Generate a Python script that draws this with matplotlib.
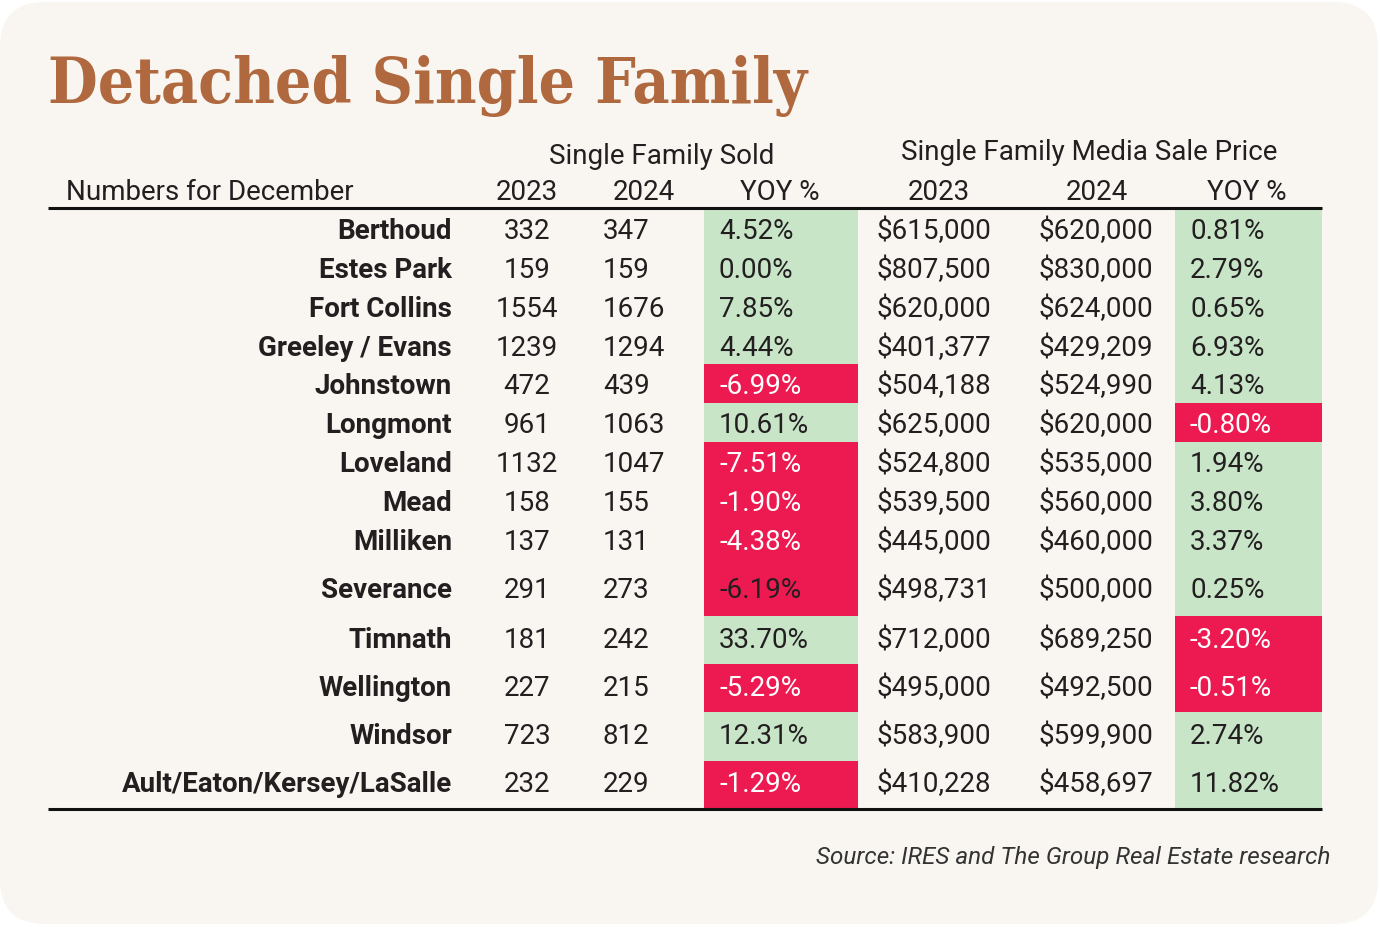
import matplotlib.pyplot as plt
from matplotlib.patches import FancyBboxPatch, Rectangle
from matplotlib import font_manager

towns = ["Berthoud", "Estes Park", "Fort Collins", "Greeley / Evans", "Johnstown",
         "Longmont", "Loveland", "Mead", "Milliken", "Severance", "Timnath",
         "Wellington", "Windsor", "Ault/Eaton/Kersey/LaSalle"]
sold_2023 = [332, 159, 1554, 1239, 472, 961, 1132, 158, 137, 291, 181, 227, 723, 232]
sold_2024 = [347, 159, 1676, 1294, 439, 1063, 1047, 155, 131, 273, 242, 215, 812, 229]
sold_yoy = [4.52, 0.00, 7.85, 4.44, -6.99, 10.61, -7.51, -1.90, -4.38, -6.19,
            33.70, -5.29, 12.31, -1.29]
price_2023 = [615000, 807500, 620000, 401377, 504188, 625000, 524800, 539500,
              445000, 498731, 712000, 495000, 583900, 410228]
price_2024 = [620000, 830000, 624000, 429209, 524990, 620000, 535000, 560000,
              460000, 500000, 689250, 492500, 599900, 458697]
price_yoy = [0.81, 2.79, 0.65, 6.93, 4.13, -0.80, 1.94, 3.80, 3.37, 0.25,
             -3.20, -0.51, 2.74, 11.82]
dark_on_red = ["Severance"]  # this one keeps dark text in the source

# layout (pixels)
row_edges = [210, 248.75, 287.5, 326.25, 365, 404, 443, 482, 521, 560,
             617, 665, 713, 762, 809]

names = {f.name for f in font_manager.fontManager.ttflist}
cond = "Liberation Sans Narrow" if "Liberation Sans Narrow" in names else "Roboto"

bg = "#f9f6f1"
ink = "#231f20"
green = "#c8e5c8"
red = "#ec1a50"

fig = plt.figure(figsize=(13.8, 9.28), dpi=100)
fig.patch.set_facecolor("white")
ax = fig.add_axes([0, 0, 1, 1])
ax.set_xlim(0, 1380)
ax.set_ylim(928, 0)
ax.axis("off")

ax.add_patch(FancyBboxPatch((0, 3), 1378, 922, boxstyle="round,pad=0,rounding_size=45",
                            fc=bg, ec="none"))

ax.text(48, 103, "Detached Single Family", family="DejaVu Serif", weight="bold",
        fontstretch="condensed", fontsize=46, color="#b0683e", va="baseline", ha="left")

fs = 20
ax.text(662, 164, "Single Family Sold", family=cond, fontsize=fs, color=ink, ha="center", va="baseline")
ax.text(1089, 160, "Single Family Media Sale Price", family=cond, fontsize=fs, color=ink, ha="center", va="baseline")
ax.text(66, 200, "Numbers for December", family=cond, fontsize=fs, color=ink, ha="left", va="baseline")
for x, s in [(527, "2023"), (644, "2024"), (780, "YOY %"), (939, "2023"), (1097, "2024"), (1247, "YOY %")]:
    ax.text(x, 200, s, family=cond, fontsize=fs, color=ink, ha="center", va="baseline")

for i, town in enumerate(towns):
    top, bot = row_edges[i], row_edges[i + 1]
    yb = (top + bot) / 2 + 10
    if bot - top > 45 and bot - top < 50:
        yb -= 3
    c1 = red if sold_yoy[i] < 0 else green
    c2 = red if price_yoy[i] < 0 else green
    ax.add_patch(Rectangle((704, top), 154, bot - top, fc=c1, ec="none"))
    ax.add_patch(Rectangle((1175, top), 147, bot - top, fc=c2, ec="none"))
    t1 = "white" if sold_yoy[i] < 0 and town not in dark_on_red else ink
    t2 = "white" if price_yoy[i] < 0 else ink
    ax.text(452, yb, town, family=cond, weight="bold", fontsize=fs, color=ink, ha="right", va="baseline")
    ax.text(527, yb, str(sold_2023[i]), family=cond, fontsize=fs, color=ink, ha="center", va="baseline")
    ax.text(603, yb, str(sold_2024[i]), family=cond, fontsize=fs, color=ink, ha="left", va="baseline")
    ax.text(719, yb, f"{sold_yoy[i]:.2f}%", family=cond, fontsize=fs, color=t1, ha="left", va="baseline")
    ax.text(876, yb, f"${price_2023[i]:,}", family=cond, fontsize=fs, color=ink, ha="left", va="baseline")
    ax.text(1039, yb, f"${price_2024[i]:,}", family=cond, fontsize=fs, color=ink, ha="left", va="baseline")
    ax.text(1190, yb, f"{price_yoy[i]:.2f}%", family=cond, fontsize=fs, color=t2, ha="left", va="baseline")

ax.plot([48, 1322], [208.5, 208.5], color="#111", lw=2.2, solid_capstyle="butt")
ax.plot([48, 1322], [809.5, 809.5], color="#111", lw=2.2, solid_capstyle="butt")

ax.text(1330, 864, "Source: IRES and The Group Real Estate research", family=cond,
        style="italic", fontsize=17.5, color="#333333", ha="right", va="baseline")

fig.savefig("out.png", dpi=100, facecolor="white")
